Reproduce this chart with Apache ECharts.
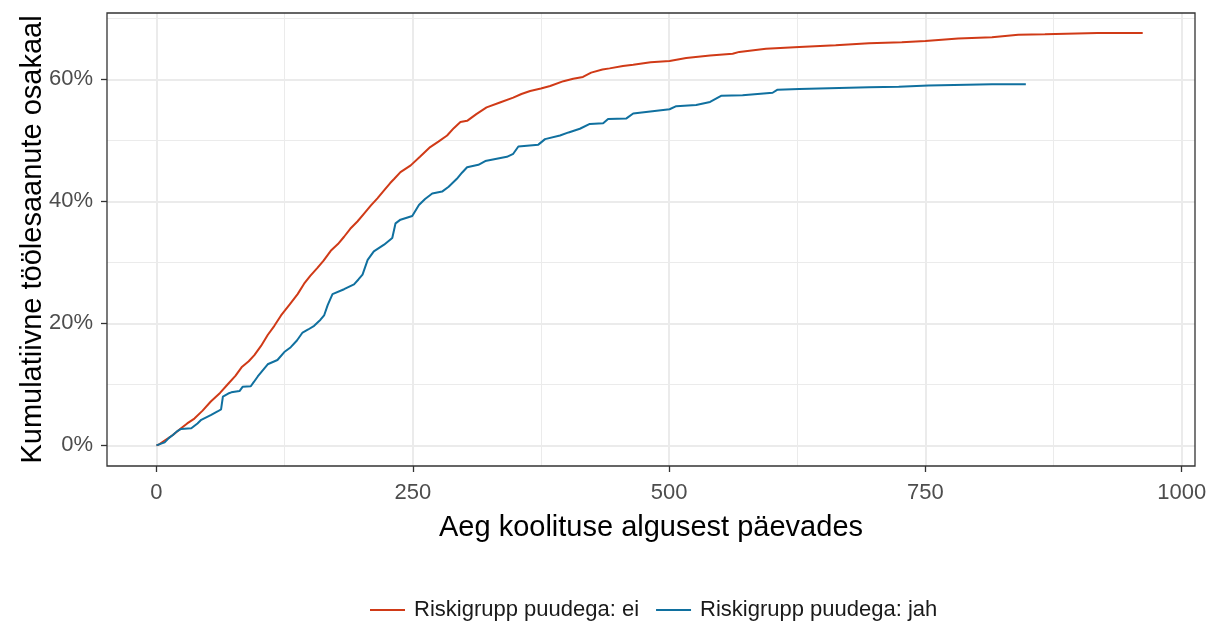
<!DOCTYPE html>
<html>
<head>
<meta charset="utf-8">
<script src="https://cdn.jsdelivr.net/npm/echarts@6/dist/echarts.min.js"></script>
<style>html,body{margin:0;padding:0;background:#fff}#c{width:1217px;height:624px}</style>
</head>
<body>
<div id="c"></div>
<script>
// Series names
const seriesNames = ['Riskigrupp puudega: ei', 'Riskigrupp puudega: jah'];
// Days since training start
const eiDays = [0,2,8,16,24,30,37,45,53,62,70,77,83,90,95.5,102,108.5,115,121.5,130,137.7,144,150,157,163,170,177,183,189,196,202.5,209,215.5,222,228,232,238,248,257,267,275,283.5,290,296.5,303,312,322,335,348,356,364.5,375,384,397,406.5,416,424,435,442,455,465,482,500.5,516.7,540,562,568.5,594.5,627,662.5,695,727,750,782,815,840.6,866.6,918,962];
// Cumulative share employed (%)
const eiValues = [0,0.1,0.8,1.7,2.8,3.6,4.4,5.7,7.2,8.6,10.1,11.4,12.8,13.8,14.8,16.3,18.1,19.6,21.3,23.1,24.8,26.5,27.8,29.1,30.3,31.9,33.0,34.2,35.5,36.7,38.0,39.3,40.5,41.8,43.0,43.7,44.8,45.9,47.3,48.9,49.8,50.8,52.0,53.0,53.2,54.3,55.4,56.2,57.0,57.6,58.1,58.5,58.9,59.7,60.1,60.4,61.1,61.6,61.8,62.2,62.4,62.8,63.0,63.5,63.9,64.2,64.5,65.0,65.3,65.6,65.9,66.1,66.3,66.7,66.9,67.3,67.4,67.6,67.6];
const jahDays = [0,1.6,8,12,16,20,24,34,40,43.7,53.4,60,63,64.8,70,73,81,84,92,95,98.8,108.5,118,124.7,131,137,142.5,148,153.8,160,163.5,167,171.7,183,192.7,197,201,206,212,222,230,233.2,238,249.5,256,262,269,278.6,285,293,298,303,314,320.7,341.8,348,353,372.5,379,393.6,402,413,422.7,435.7,440.5,458.4,465,500.5,507,526.4,540,550.7,571.7,601,605.8,627,695,724,753,815,848];
const jahValues = [0,0.1,0.5,1.2,1.7,2.3,2.7,2.8,3.6,4.2,5.0,5.6,5.9,8.0,8.5,8.7,8.9,9.6,9.7,10.4,11.3,13.3,14.0,15.3,16.1,17.2,18.5,19.0,19.6,20.6,21.3,23.0,24.8,25.6,26.4,27.2,28.0,30.4,31.8,32.9,34.0,36.4,37.0,37.6,39.4,40.4,41.3,41.6,42.4,43.7,44.7,45.6,46.0,46.6,47.3,47.8,49.0,49.3,50.2,50.8,51.3,51.9,52.7,52.8,53.5,53.6,54.4,55.1,55.6,55.8,56.3,57.3,57.4,57.8,58.3,58.4,58.7,58.8,59.0,59.2,59.2];
// Tick labels
const xTicks = [0,250,500,750,1000];
const xMinor = [125,375,625,875];
const yTicks = [0,20,40,60];
const yMinor = [10,30,50,70];

const FONT = '"Liberation Sans", Arial, sans-serif';
const zip = (a,b) => a.map((v,i) => [v, b[i]]);

const gridLines = [];
xTicks.forEach(v => gridLines.push({xAxis: v, lineStyle: {color:'#EBEBEB', width:2, type:'solid'}}));
xMinor.forEach(v => gridLines.push({xAxis: v, lineStyle: {color:'#EBEBEB', width:1, type:'solid'}}));
yTicks.forEach(v => gridLines.push({yAxis: v, lineStyle: {color:'#EBEBEB', width:2, type:'solid'}}));
yMinor.forEach(v => gridLines.push({yAxis: v, lineStyle: {color:'#EBEBEB', width:1, type:'solid'}}));

const chart = echarts.init(document.getElementById('c'), null, {renderer:'canvas'});
chart.setOption({
  animation: false,
  backgroundColor: '#ffffff',
  textStyle: {fontFamily: FONT},
  grid: {left:107, right:22, top:13, bottom:158, show:true, borderColor:'#333333', borderWidth:1.3, backgroundColor:'transparent', z:20},
  xAxis: {
    type:'value', min:-48.25, max:1013,
    name:'Aeg koolituse algusest päevades', nameLocation:'middle', nameGap:47, nameMoveOverlap:false,
    nameTextStyle:{fontFamily:FONT, fontSize:29, color:'#000'},
    axisLine:{show:false, onZero:false},
    axisTick:{show:true, length:6, customValues:xTicks, lineStyle:{color:'#333333', width:1.3}},
    axisLabel:{customValues:xTicks, formatter: v => String(v), fontFamily:FONT, fontSize:22, color:'#4D4D4D', margin:16},
    splitLine:{show:false}
  },
  yAxis: {
    type:'value', min:-3.375, max:70.875,
    name:'Kumulatiivne töölesaanute osakaal', nameLocation:'middle', nameGap:60, nameRotate:90, nameMoveOverlap:false,
    nameTextStyle:{fontFamily:FONT, fontSize:29, color:'#000'},
    axisLine:{show:false, onZero:false},
    axisTick:{show:true, length:6, customValues:yTicks, lineStyle:{color:'#333333', width:1.3}},
    axisLabel:{customValues:yTicks, formatter: v => v + '%', fontFamily:FONT, fontSize:22, color:'#4D4D4D', margin:14},
    splitLine:{show:false}
  },
  legend: {
    data: seriesNames, left:365, top:594, icon:'rect', itemWidth:35, itemHeight:2, itemGap:17,
    textStyle:{fontFamily:FONT, fontSize:22, color:'#1A1A1A', padding:[0,0,0,4]}
  },
  series: [
    {type:'line', name:'grid', data:[[0,0]], symbol:'none', lineStyle:{opacity:0}, silent:true, z:1,
     markLine:{silent:true, z:1, symbol:['none','none'], label:{show:false}, animation:false, data:gridLines}},
    {type:'line', name:seriesNames[0], data:zip(eiDays, eiValues), symbol:'none', z:10,
     lineStyle:{color:'#D03A17', width:2}, itemStyle:{color:'#D03A17'}},
    {type:'line', name:seriesNames[1], data:zip(jahDays, jahValues), symbol:'none', z:10,
     lineStyle:{color:'#10709F', width:2}, itemStyle:{color:'#10709F'}}
  ]
});
</script>
</body>
</html>
